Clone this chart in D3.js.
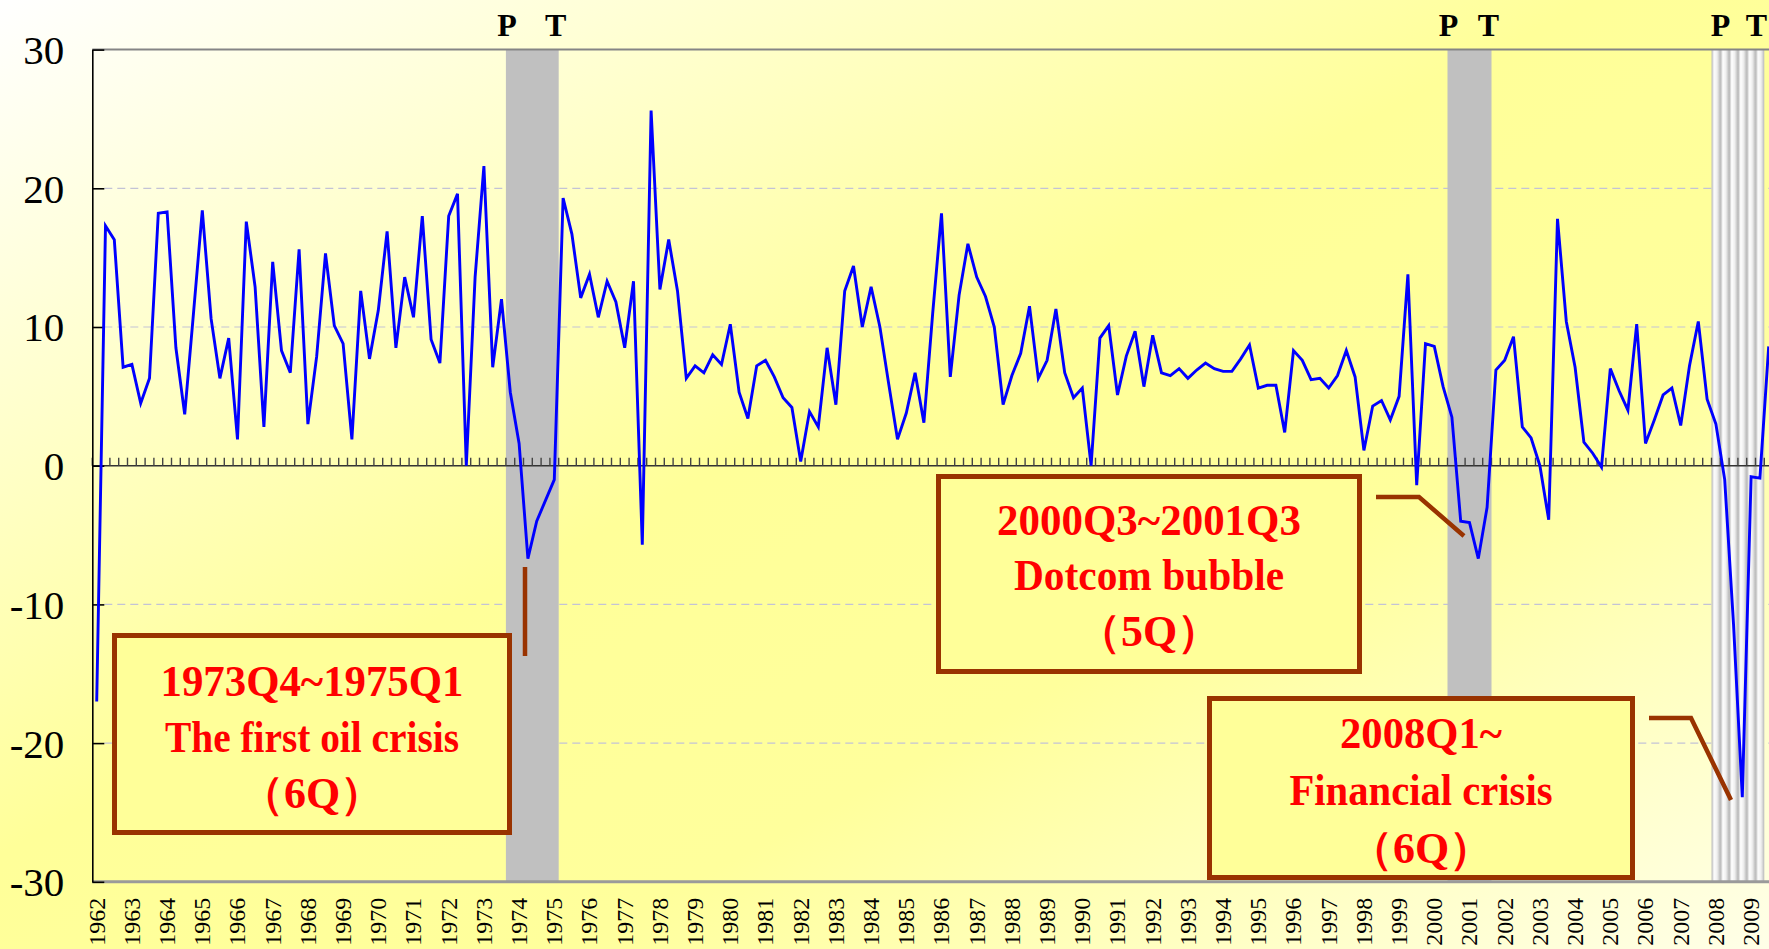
<!DOCTYPE html>
<html>
<head>
<meta charset="utf-8">
<script src="https://cdn.jsdelivr.net/npm/d3@7"></script>
<style>
body{margin:0;overflow:hidden;background:#ffff99;}
svg{display:block;}
</style>
</head>
<body>
<svg width="1769" height="949"></svg>
<script>
// tick labels on the category axis (one per year, first quarter)
var years = [1962,1963,1964,1965,1966,1967,1968,1969,1970,1971,1972,1973,1974,1975,1976,1977,
	1978,1979,1980,1981,1982,1983,1984,1985,1986,1987,1988,1989,1990,1991,1992,1993,1994,1995,
	1996,1997,1998,1999,2000,2001,2002,2003,2004,2005,2006,2007,2008,2009];

// quarterly growth, 1962Q1 .. 2009Q3
var growth = [
	-17.0, 17.3, 16.3,  7.1,   // 1962
	  7.3,  4.5,  6.3, 18.2,   // 1963
	 18.3,  8.5,  3.7, 11.0,   // 1964
	 18.4, 10.6,  6.3,  9.2,   // 1965
	  1.9, 17.6, 12.9,  2.8,   // 1966
	 14.7,  8.3,  6.7, 15.6,   // 1967
	  3.0,  7.9, 15.3, 10.1,   // 1968
	  8.8,  1.9, 12.6,  7.7,   // 1969
	 11.2, 16.9,  8.5, 13.6,   // 1970
	 10.7, 18.0,  9.1,  7.4,   // 1971
	 18.0, 19.6,  0.0, 13.6,   // 1972
	 21.6,  7.1, 12.0,  5.3,   // 1973
	  1.6, -6.7, -4.0, -2.5,   // 1974
	 -1.0, 19.3, 16.7, 12.1,   // 1975
	 13.8, 10.7, 13.3, 11.8,   // 1976
	  8.5, 13.3, -5.7, 25.6,   // 1977
	 12.7, 16.3, 12.6,  6.3,   // 1978
	  7.2,  6.7,  8.0,  7.3,   // 1979
	 10.2,  5.3,  3.4,  7.2,   // 1980
	  7.6,  6.4,  4.9,  4.2,   // 1981
	  0.3,  3.9,  2.8,  8.5,   // 1982
	  4.4, 12.6, 14.4, 10.0,   // 1983
	 12.9, 10.0,  5.9,  1.9,   // 1984
	  3.8,  6.7,  3.1, 11.0,   // 1985
	 18.2,  6.4, 12.3, 16.0,   // 1986
	 13.6, 12.2, 10.0,  4.4,   // 1987
	  6.5,  8.1, 11.5,  6.3,   // 1988
	  7.6, 11.3,  6.7,  4.9,   // 1989
	  5.6,  0.0,  9.2, 10.1,   // 1990
	  5.1,  7.9,  9.7,  5.7,   // 1991
	  9.4,  6.7,  6.5,  7.0,   // 1992
	  6.3,  6.9,  7.4,  7.0,   // 1993
	  6.8,  6.8,  7.7,  8.7,   // 1994
	  5.6,  5.8,  5.8,  2.4,   // 1995
	  8.3,  7.6,  6.2,  6.3,   // 1996
	  5.6,  6.5,  8.3,  6.4,   // 1997
	  1.1,  4.3,  4.7,  3.3,   // 1998
	  5.0, 13.8, -1.4,  8.8,   // 1999
	  8.6,  5.7,  3.5, -4.0,   // 2000
	 -4.1, -6.7, -3.0,  6.9,   // 2001
	  7.6,  9.3,  2.8,  2.0,   // 2002
	  0.0, -3.9, 17.8, 10.4,   // 2003
	  7.1,  1.7,  0.9, -0.1,   // 2004
	  7.0,  5.4,  4.0, 10.2,   // 2005
	  1.6,  3.3,  5.1,  5.6,   // 2006
	  2.9,  7.2, 10.4,  4.8,   // 2007
	  3.0, -1.0,-11.4,-23.9,   // 2008
	 -0.8, -0.9,  8.6          // 2009
];

var yTicks = [-30, -20, -10, 0, 10, 20, 30];

// recessions: first quarter and length in quarters
var recStart = ["1973Q4", "2000Q3", "2008Q1"];
var recLength = [6, 5, 6];

// annotation texts
var noteLines = [
	["1973Q4~1975Q1", "The first oil crisis", "\uff086Q\uff09"],
	["2000Q3~2001Q3", "Dotcom bubble", "\uff085Q\uff09"],
	["2008Q1~", "Financial crisis", "\uff086Q\uff09"]
];

window.onload = function(){
	var W = 1769, H = 949;
	var left = 92.3, top = 49.6, bottom = 881.8, step = 8.8;
	var serif = "'Liberation Serif','Times New Roman',serif";
	var svg = d3.select("svg");

	var quarters = [];
	years.forEach(function(yr){
		["Q1","Q2","Q3","Q4"].forEach(function(q){ quarters.push(yr + q); });
	});
	quarters = quarters.slice(0, growth.length);
	var data = growth.map(function(v, i){ return {q: quarters[i], v: v}; });

	var x = d3.scaleBand().domain(quarters).range([left, left + step * quarters.length]);
	var y = d3.scaleLinear().domain([-30, 30]).range([bottom, top]);
	var bw = x.bandwidth();

	//defs
	var defs = svg.append("defs");
	var bg = defs.append("linearGradient").attr("id", "bg")
		.attr("x1", 0).attr("y1", 0).attr("x2", 1).attr("y2", 1);
	bg.append("stop").attr("offset", 0).attr("stop-color", "#ffffff");
	bg.append("stop").attr("offset", 0.45).attr("stop-color", "#ffff99");
	bg.append("stop").attr("offset", 0.66).attr("stop-color", "#ffff9c");
	bg.append("stop").attr("offset", 1).attr("stop-color", "#ffffe8");

	var sg = defs.append("linearGradient").attr("id", "stripeGrad")
		.attr("x1", 0).attr("y1", 0).attr("x2", 1).attr("y2", 0);
	sg.append("stop").attr("offset", 0).attr("stop-color", "#b0b0b0");
	sg.append("stop").attr("offset", 0.3).attr("stop-color", "#ffffff");
	sg.append("stop").attr("offset", 0.65).attr("stop-color", "#eeeeee");
	sg.append("stop").attr("offset", 1).attr("stop-color", "#b8b8b8");
	var pat = defs.append("pattern").attr("id", "stripes")
		.attr("patternUnits", "userSpaceOnUse")
		.attr("x", x("2008Q1")).attr("y", 0)
		.attr("width", step).attr("height", 10);
	pat.append("rect").attr("width", step).attr("height", 10).attr("fill", "url(#stripeGrad)");

	//background
	svg.append("rect").attr("width", W).attr("height", H).attr("fill", "url(#bg)");

	//grid
	svg.append("g").selectAll("line")
		.data(yTicks.filter(function(t){ return t !== 0 && Math.abs(t) < 30; }))
		.enter().append("line")
		.attr("x1", left + 12).attr("x2", W)
		.attr("y1", function(d){ return y(d); }).attr("y2", function(d){ return y(d); })
		.attr("stroke", "#c3c3d6").attr("stroke-width", 1.2)
		.attr("stroke-dasharray", "8,5");

	//recession bands
	var rec = recStart.map(function(s, i){ return {start: s, n: recLength[i], k: i}; });
	svg.append("g").selectAll("rect")
		.data(rec).enter().append("rect")
		.attr("x", function(d){ return x(d.start); })
		.attr("width", function(d){ return d.n * step; })
		.attr("y", top).attr("height", bottom - top)
		.attr("fill", function(d){ return d.k === 2 ? "url(#stripes)" : "#c0c0c0"; });

	//frame
	svg.append("line").attr("x1", left).attr("x2", W).attr("y1", top).attr("y2", top)
		.attr("stroke", "#858585").attr("stroke-width", 2);
	svg.append("line").attr("x1", left).attr("x2", W).attr("y1", bottom).attr("y2", bottom)
		.attr("stroke", "#9a9a9a").attr("stroke-width", 3);

	//zero line with quarter ticks
	var zero = svg.append("g");
	zero.append("line").attr("x1", left).attr("x2", W).attr("y1", y(0)).attr("y2", y(0))
		.attr("stroke", "#333").attr("stroke-width", 1.6);
	zero.selectAll(".qt").data(d3.range(quarters.length + 1))
		.enter().append("line").attr("class", "qt")
		.attr("x1", function(i){ return left + i * step; })
		.attr("x2", function(i){ return left + i * step; })
		.attr("y1", y(0)).attr("y2", y(0) - 8)
		.attr("stroke", "#444").attr("stroke-width", 1.4);

	//y axis
	var yAxis = svg.append("g").attr("transform", "translate(" + left + ",0)")
		.call(d3.axisLeft(y).tickValues(yTicks)
			.tickFormat(function(d){ return String(d); })
			.tickSize(-12).tickSizeOuter(0).tickPadding(28));
	yAxis.select(".domain").attr("stroke", "#000").attr("stroke-width", 1.6);
	yAxis.selectAll(".tick line").attr("stroke", "#000").attr("stroke-width", 1.6);
	yAxis.selectAll("text").attr("font-family", serif).attr("font-size", 41)
		.attr("fill", "#000").attr("dy", "0.34em");

	//x labels
	var xAxis = svg.append("g").attr("transform", "translate(0," + bottom + ")")
		.call(d3.axisBottom(x)
			.tickValues(quarters.filter(function(q){ return /Q1$/.test(q); }))
			.tickFormat(function(q){ return q.slice(0, 4); })
			.tickSize(0));
	xAxis.select(".domain").remove();
	xAxis.selectAll("text")
		.attr("transform", "rotate(-90)")
		.attr("text-anchor", "end")
		.attr("x", -16).attr("y", 0).attr("dy", "0.33em")
		.attr("font-family", serif).attr("font-size", 24).attr("fill", "#000");

	//series
	var line = d3.line()
		.x(function(d){ return x(d.q) + bw / 2; })
		.y(function(d){ return y(d.v); });
	svg.append("path").datum(data)
		.attr("d", line)
		.attr("fill", "none").attr("stroke", "#0000ff").attr("stroke-width", 2.9);

	//P / T marks
	var pt = [];
	rec.forEach(function(d){
		var x0 = x(d.start), x1 = x0 + d.n * step;
		pt.push({t: "P", x: d.k === 2 ? x0 + 9 : x0 + 1});
		pt.push({t: "T", x: d.k === 2 ? x1 - 8 : x1 - 3});
	});
	svg.append("g").selectAll("text").data(pt).enter().append("text")
		.attr("x", function(d){ return d.x; }).attr("y", 36)
		.attr("text-anchor", "middle")
		.attr("font-family", serif).attr("font-weight", "bold").attr("font-size", 32)
		.text(function(d){ return d.t; });

	//leader lines
	var leaders = [
		[[525, 567], [525, 656]],
		[[1376, 497], [1419, 497], [1464, 536]],
		[[1649, 718], [1691, 718], [1731, 800]]
	];
	svg.append("g").selectAll("path").data(leaders).enter().append("path")
		.attr("d", d3.line())
		.attr("fill", "none").attr("stroke", "#993300").attr("stroke-width", 4.5);

	//annotation boxes
	var boxes = [
		{x0: 112, y0: 633, x1: 512, y1: 835, base: [696, 752, 808], w: [303, 294]},
		{x0: 936, y0: 474, x1: 1362, y1: 674, base: [535, 590, 646], w: [304, 270]},
		{x0: 1207, y0: 696, x1: 1635, y1: 880, base: [748, 805, 863], w: [162, 263]}
	];
	boxes.forEach(function(b, i){
		var g = svg.append("g");
		g.append("rect")
			.attr("x", b.x0 + 2.5).attr("y", b.y0 + 2.5)
			.attr("width", b.x1 - b.x0 - 5).attr("height", b.y1 - b.y0 - 5)
			.attr("fill", "#ffff99").attr("stroke", "#993300").attr("stroke-width", 5);
		var cx = (b.x0 + b.x1) / 2;
		noteLines[i].forEach(function(s, j){
			var t = g.append("text")
				.attr("x", cx).attr("y", b.base[j])
				.attr("text-anchor", "middle")
				.attr("font-family", serif).attr("font-weight", "bold")
				.attr("font-size", 44).attr("fill", "#ff0000")
				.text(s);
			if (j < 2) t.attr("textLength", b.w[j]).attr("lengthAdjust", "spacingAndGlyphs");
		});
	});
};
</script>
</body>
</html>
